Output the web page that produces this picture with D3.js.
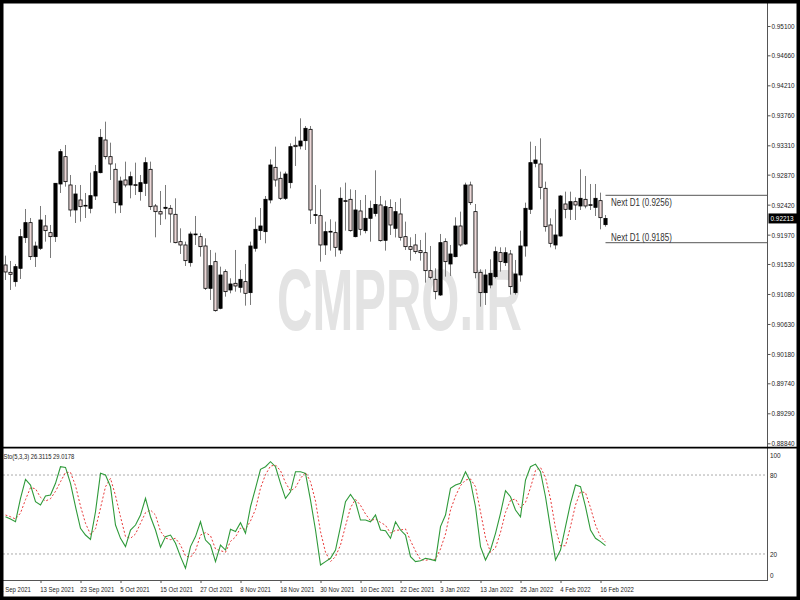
<!DOCTYPE html>
<html><head><meta charset="utf-8">
<script src="https://cdn.jsdelivr.net/npm/d3@7"></script>
<style>body{margin:0;background:#fff}svg{display:block}text{font-family:"Liberation Sans",Arial,sans-serif}</style>
</head><body><svg id="c" width="800" height="600"></svg>
<script>
// ---- data (USDCHF daily) ----
const opens=[0.91515,0.91405,0.91265,0.91465,0.91925,0.9215,0.9164,0.91765,0.921,0.92,0.9194,0.9273,0.9314,0.92715,0.9234,0.9249,0.9241,0.92365,0.9255,0.929,0.9339,0.9314,0.9295,0.92415,0.9279,0.92715,0.9272,0.92615,0.9274,0.9295,0.924,0.92315,0.92365,0.92365,0.92275,0.91865,0.91815,0.9155,0.9198,0.9194,0.918,0.91165,0.91565,0.90865,0.91415,0.9114,0.9124,0.9118,0.91265,0.911,0.91765,0.9203,0.92015,0.9249,0.9298,0.92815,0.92515,0.9275,0.9331,0.933,0.9338,0.9355,0.9226,0.92255,0.91815,0.9202,0.92,0.9174,0.9248,0.925,0.9194,0.92325,0.9203,0.92215,0.92288,0.92415,0.91885,0.92378,0.92065,0.9228,0.9194,0.9179,0.91815,0.9173,0.917,0.9143,0.913,0.91065,0.91865,0.9153,0.9164,0.921,0.9183,0.92715,0.92315,0.91405,0.911,0.91215,0.9134,0.917,0.9155,0.9168,0.911,0.91365,0.918,0.9235,0.9304,0.9303,0.92665,0.92115,0.91815,0.9195,0.9243,0.9235,0.92465,0.924,0.925,0.9242,0.9238,0.9248,0.9212];
const highs=[0.91655,0.91575,0.9153,0.92055,0.92355,0.9222,0.91865,0.924,0.92265,0.92115,0.92745,0.93255,0.93315,0.92865,0.92715,0.92715,0.92595,0.929,0.93015,0.93555,0.93665,0.9335,0.9304,0.9284,0.93065,0.92915,0.9305,0.92865,0.9313,0.93065,0.9243,0.92625,0.92715,0.92415,0.92515,0.92065,0.91865,0.92015,0.9225,0.9199,0.91915,0.9174,0.917,0.9149,0.9145,0.91315,0.9174,0.9144,0.9153,0.91865,0.9223,0.9237,0.9255,0.931,0.9329,0.92915,0.92915,0.9334,0.9344,0.93715,0.936,0.936,0.92715,0.9265,0.92165,0.922,0.92165,0.9268,0.9275,0.9265,0.9264,0.9249,0.92565,0.9248,0.92935,0.9255,0.92483,0.925,0.9246,0.92515,0.92165,0.9193,0.9198,0.9189,0.92,0.918,0.91465,0.9198,0.91915,0.91815,0.9223,0.92315,0.9275,0.92765,0.9243,0.9145,0.9145,0.916,0.9179,0.9178,0.9178,0.9174,0.9159,0.9203,0.9245,0.93365,0.933,0.93415,0.92765,0.92215,0.9235,0.92565,0.92615,0.92615,0.9253,0.9295,0.9285,0.9273,0.9273,0.926,0.92265];
const lows=[0.9129,0.9114,0.9119,0.91305,0.91845,0.9159,0.91485,0.9174,0.91865,0.9162,0.9186,0.92595,0.9269,0.9224,0.92145,0.92165,0.9222,0.9229,0.9249,0.9289,0.931,0.9279,0.9229,0.92295,0.9268,0.92515,0.92565,0.9248,0.9255,0.9234,0.9193,0.92115,0.922,0.9185,0.9184,0.9168,0.915,0.9149,0.91815,0.9164,0.9114,0.9099,0.90815,0.9085,0.9104,0.9109,0.91115,0.911,0.90905,0.90915,0.91715,0.9189,0.9184,0.9244,0.9269,0.9249,0.9249,0.92665,0.93,0.9325,0.9324,0.9213,0.9213,0.91565,0.91665,0.9173,0.9164,0.9168,0.9203,0.92015,0.9193,0.9196,0.9199,0.91865,0.92243,0.91865,0.9173,0.91965,0.91928,0.9188,0.9174,0.9158,0.9168,0.9158,0.9125,0.913,0.91,0.9105,0.9134,0.9135,0.9163,0.9179,0.91815,0.92415,0.91315,0.9089,0.90915,0.91165,0.91315,0.91415,0.915,0.9107,0.9107,0.91265,0.9164,0.9228,0.9298,0.925,0.92015,0.9178,0.9175,0.9194,0.92215,0.9219,0.9219,0.9234,0.92365,0.9234,0.9225,0.9205,0.9209];
const closes=[0.9141,0.91375,0.9149,0.9194,0.9215,0.9164,0.918,0.9219,0.9203,0.9194,0.9274,0.93215,0.92765,0.9234,0.9258,0.9239,0.924,0.92555,0.92915,0.9343,0.9314,0.9303,0.9245,0.92775,0.92715,0.9284,0.9271,0.9275,0.9305,0.9239,0.92315,0.9228,0.9238,0.9228,0.9185,0.91815,0.9158,0.9198,0.9197,0.9179,0.91165,0.91505,0.9083,0.91365,0.91115,0.9123,0.912,0.913,0.9109,0.918,0.9205,0.921,0.925,0.93015,0.9279,0.92515,0.9288,0.9329,0.9329,0.93375,0.93565,0.9234,0.9227,0.91815,0.92015,0.9201,0.9178,0.92515,0.9247,0.9203,0.9234,0.9205,0.92215,0.92365,0.92423,0.9188,0.9239,0.92115,0.92315,0.9193,0.9179,0.9175,0.91715,0.917,0.9143,0.9133,0.91115,0.9185,0.91565,0.9168,0.921,0.91815,0.92715,0.9245,0.914,0.911,0.91365,0.9139,0.91715,0.91565,0.917,0.9119,0.9138,0.918,0.92365,0.9305,0.9309,0.9268,0.9209,0.9184,0.91965,0.9255,0.9235,0.92465,0.92415,0.92515,0.924,0.9241,0.92515,0.92225,0.92213];
const stochMain=[48.3,46.6,44.5,62.3,76.7,72.4,59.7,57.2,64.0,64.8,73.7,86.3,85.8,73.7,55.9,39.5,34.4,31.1,52.1,81.3,80.0,71.1,42.0,31.9,25.6,38.2,42.0,49.6,62.3,48.3,38.2,25.1,33.2,34.4,28.1,18.0,9.1,25.6,33.2,44.5,30.6,26.8,14.2,26.8,23.0,38.7,37.0,43.8,35.7,55.9,69.9,84.3,86.3,90.1,86.3,73.7,62.3,67.3,82.5,82.5,81.3,61.0,38.2,11.6,14.2,16.7,23.0,40.8,59.7,65.3,59.7,45.8,45.8,44.5,49.6,38.2,37.7,31.9,44.5,38.2,34.4,18.0,14.2,14.9,16.7,15.9,14.9,40.8,49.6,69.9,72.4,73.7,82.5,74.9,55.9,25.6,15.4,23.0,35.7,50.9,68.1,63.5,53.4,48.3,76.2,86.3,88.3,82.5,63.5,39.5,15.4,23.0,40.8,58.5,72.4,71.1,55.9,38.2,31.9,29.4,26.3115];
const stochSignal=[49.6,48.3,46.6,51.1,61.3,70.4,69.6,63.0,60.2,62.0,67.6,74.9,82.0,82.0,71.9,56.4,43.3,34.9,39.2,54.9,71.1,77.5,64.3,48.3,33.2,31.9,35.2,43.3,51.4,53.4,49.6,37.2,32.1,30.9,31.9,26.8,18.5,17.5,22.5,34.4,36.2,33.9,23.8,22.5,21.3,29.6,32.9,39.7,38.7,45.1,53.9,70.1,80.3,86.8,87.6,83.3,74.2,67.8,70.6,77.5,82.0,74.9,60.2,37.0,21.3,14.2,18.0,26.8,41.3,55.2,61.5,57.0,50.4,45.3,46.6,44.0,41.8,35.9,38.0,38.2,39.0,30.1,22.3,15.7,15.2,15.9,15.9,23.8,35.2,53.4,64.0,71.9,76.2,77.0,71.1,52.1,32.4,21.3,24.8,36.4,51.6,60.8,61.8,55.2,59.2,70.4,83.5,85.8,78.2,61.8,39.5,26.1,26.3,40.8,57.2,67.3,66.6,55.2,42.0,33.2,29.0178];
const priceTicks=[0.95100,0.94660,0.94210,0.93760,0.93310,0.92870,0.92420,0.91970,0.91530,0.91080,0.90630,0.90180,0.89740,0.89290,0.88840];
const dateTickBars=[-1,7,15,23,31,39,47,55,63,71,79,87,95,103,111,119];
const dateTickLabels=["1 Sep 2021","13 Sep 2021","23 Sep 2021","5 Oct 2021","15 Oct 2021","27 Oct 2021","8 Nov 2021","18 Nov 2021","30 Nov 2021","10 Dec 2021","22 Dec 2021","3 Jan 2022","13 Jan 2022","25 Jan 2022","4 Feb 2022","16 Feb 2022"];
const stochLevels=[80,20];
const stochTicks=[100,80,20,0];
const nextD1=[0.9256,0.9185];
const lastPrice=0.92213;
const stoLabel="Sto(5,3,3) 26.3115 29.0178";
const watermark="CMPRO.IR";

// ---- drawing ----
const svg=d3.select("#c");
const n=closes.length;
const x=d3.scaleLinear().domain([0,n-1]).range([5.5,605.5]);
const y=d3.scaleLinear().domain([0.8884,0.951]).range([443.3,26]);
const ys=d3.scaleLinear().domain([0,100]).range([580.3,448.7]);
const SX=0.75;

svg.append("rect").attr("width",800).attr("height",600).attr("fill","#fff");
svg.append("defs").append("clipPath").attr("id","mainclip").append("rect").attr("x",0).attr("y",0).attr("width",767).attr("height",446);

// watermark
svg.append("text").attr("x",277).attr("y",330).attr("font-size",88).attr("font-weight","bold")
  .attr("fill","#e3e3e3").attr("textLength",245).attr("lengthAdjust","spacingAndGlyphs").text(watermark);

const main=svg.append("g").attr("clip-path","url(#mainclip)");
const idx=d3.range(n);
main.selectAll("line.wick").data(idx).join("line").attr("class","wick")
  .attr("x1",i=>x(i)).attr("x2",i=>x(i)).attr("y1",i=>y(highs[i])).attr("y2",i=>y(lows[i]))
  .attr("stroke","#7a7a7a").attr("stroke-width",1);
main.selectAll("rect.body").data(idx).join("rect").attr("class","body")
  .attr("x",i=>x(i)-1.6).attr("width",3.2)
  .attr("y",i=>y(Math.max(opens[i],closes[i])))
  .attr("height",i=>Math.max(0.8,Math.abs(y(opens[i])-y(closes[i]))))
  .attr("fill",i=>closes[i]>=opens[i]?"#000":"#ecd8d8")
  .attr("stroke","#000").attr("stroke-width",0.8);

// Next D1 levels
nextD1.forEach((v,k)=>{
  svg.append("line").attr("x1",x(n-1)).attr("x2",767).attr("y1",y(v)).attr("y2",y(v))
    .attr("stroke","#777").attr("stroke-width",1.2);
  svg.append("text").attr("transform",`translate(611,${y(v)+(k===0?10.5:-2)}) scale(0.8,1)`)
    .attr("font-size",10).attr("fill","#333").text(`Next D1 (${v.toFixed(4)})`);
});

// price axis
const pax=svg.append("g").attr("transform","translate(767.5,0)")
  .call(d3.axisRight(y).tickValues(priceTicks).tickSize(3).tickSizeOuter(0).tickPadding(2).tickFormat(d3.format(".5f")));
pax.select(".domain").remove();
pax.selectAll("line").attr("stroke","#555");
pax.selectAll("text").attr("font-size",8).attr("fill","#222").attr("font-family","Liberation Sans, Arial")
  .attr("transform","scale(0.8,1)").attr("dy","0.3em");
// last price box
svg.append("rect").attr("x",768.5).attr("y",y(lastPrice)-5).attr("width",30).attr("height",10).attr("fill","#000");
svg.append("text").attr("transform",`translate(770.5,${y(lastPrice)+3}) scale(0.8,1)`)
  .attr("font-size",8).attr("fill","#fff").text(lastPrice.toFixed(5));

// stochastic panel
stochLevels.forEach(v=>{
  svg.append("line").attr("x1",3).attr("x2",767).attr("y1",ys(v)).attr("y2",ys(v))
    .attr("stroke","#aaa").attr("stroke-dasharray","2,2").attr("stroke-width",1);
});
const lineGen=arr=>d3.line().x((d,i)=>x(i)).y(d=>ys(d))(arr);
svg.append("path").attr("d",lineGen(stochSignal)).attr("fill","none").attr("stroke","#e83a3a")
  .attr("stroke-width",1).attr("stroke-dasharray","2,2");
svg.append("path").attr("d",lineGen(stochMain)).attr("fill","none").attr("stroke","#2f9a3a").attr("stroke-width",1.1);
svg.append("text").attr("transform","translate(3.5,459) scale(0.73,1)").attr("font-size",8).attr("fill","#222").text(stoLabel);
stochTicks.forEach(v=>{
  const yy=Math.min(Math.max(ys(v),455),575);
  svg.append("text").attr("transform",`translate(770,${yy+3}) scale(0.8,1)`).attr("font-size",8).attr("fill","#222").text(v);
});

// date axis
const dax=svg.append("g").attr("transform","translate(0,580)")
  .call(d3.axisBottom(x).tickValues(dateTickBars).tickSize(3).tickSizeOuter(0).tickFormat((d,i)=>dateTickLabels[i]));
dax.select(".domain").remove();
dax.selectAll("line").attr("stroke","#555");
dax.selectAll("text").attr("font-size",8).attr("fill","#222").attr("font-family","Liberation Sans, Arial")
  .attr("text-anchor","start").attr("x",-1).attr("y",6.5).attr("transform",`scale(${SX},1)`);

// frame lines
svg.append("line").attr("x1",767.5).attr("x2",767.5).attr("y1",0).attr("y2",580).attr("stroke","#555");
svg.append("line").attr("x1",0).attr("x2",800).attr("y1",447.6).attr("y2",447.6).attr("stroke","#000").attr("stroke-width",1.6);
svg.append("line").attr("x1",0).attr("x2",768).attr("y1",580.5).attr("y2",580.5).attr("stroke","#555");
svg.append("rect").attr("x",1.75).attr("y",1.75).attr("width",796.5).attr("height",596.5)
  .attr("fill","none").attr("stroke","#000").attr("stroke-width",3.5);
</script></body></html>
